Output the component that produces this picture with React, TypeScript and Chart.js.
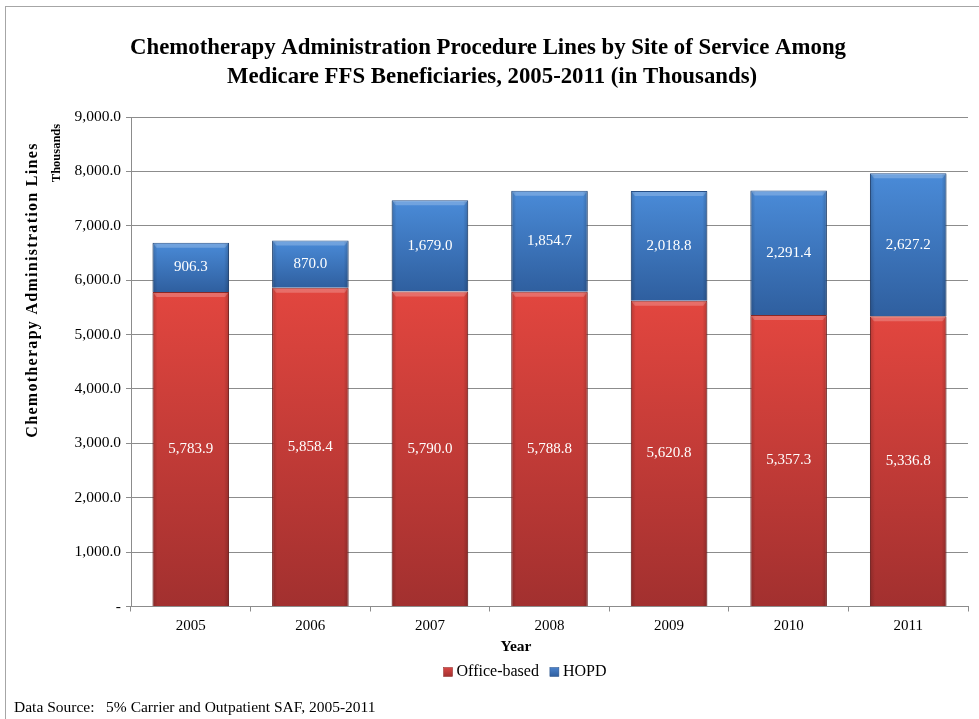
import { useEffect, useRef } from 'react';
import { Chart, registerables } from 'chart.js';

Chart.register(...registerables);

const FONT = '"Liberation Serif", "Times New Roman", serif';

const years = ['2005', '2006', '2007', '2008', '2009', '2010', '2011'];
const officeBased = [5783.9, 5858.4, 5790.0, 5788.8, 5620.8, 5357.3, 5336.8];
const hopd = [906.3, 870.0, 1679.0, 1854.7, 2018.8, 2291.4, 2627.2];
const seriesNames = ['Office-based', 'HOPD'];
const titleLines = [
  'Chemotherapy Administration Procedure Lines by Site of Service Among',
  'Medicare FFS Beneficiaries, 2005-2011 (in Thousands)',
];
const yAxisTitle = 'Chemotherapy Administration Lines';
const yAxisUnit = 'Thousands';
const xAxisTitle = 'Year';
const sourceNote = 'Data Source:   5% Carrier and Outpatient SAF, 2005-2011';
const yMin = 0;
const yMax = 9000;
const yStep = 1000;

const RED_TOP = '#e2463f';
const RED_BOTTOM = '#a2302f';
const BLUE_TOP = '#4a8bd8';
const BLUE_BOTTOM = '#2f5f9f';
const LEGEND_FILL = ['#d94744', '#4a82cc'];
const EDGE = ['#8a2826', '#274f86'];

const fmt = (v: number) =>
  v.toLocaleString('en-US', { minimumFractionDigits: 1, maximumFractionDigits: 1 });

function segGradient(ctx: any, top: string, bottom: string) {
  const chart = ctx.chart;
  const y = chart.scales && chart.scales.y;
  if (!chart.chartArea || !y || ctx.type !== 'data') return top;
  const i = ctx.dataIndex;
  const lower = ctx.datasetIndex === 0 ? 0 : officeBased[i];
  const upper = ctx.datasetIndex === 0 ? officeBased[i] : officeBased[i] + hopd[i];
  const y0 = y.getPixelForValue(upper);
  const y1 = y.getPixelForValue(lower);
  if (!isFinite(y0) || !isFinite(y1) || y0 === y1) return top;
  const g = chart.ctx.createLinearGradient(0, y0, 0, y1);
  g.addColorStop(0, top);
  g.addColorStop(1, bottom);
  return g;
}

const bevelPlugin = {
  id: 'bevel',
  afterDatasetsDraw(chart: any) {
    const ctx = chart.ctx;
    chart.data.datasets.forEach((_: any, di: number) => {
      const meta = chart.getDatasetMeta(di);
      meta.data.forEach((el: any) => {
        const p = el.getProps(['x', 'y', 'base', 'width'], true);
        const left = p.x - p.width / 2;
        const top = Math.min(p.y, p.base);
        const h = Math.abs(p.base - p.y);
        ctx.save();
        ctx.fillStyle = 'rgba(255,255,255,0.22)';
        ctx.beginPath();
        ctx.moveTo(left + 1, top + 1);
        ctx.lineTo(left + p.width - 1, top + 1);
        ctx.lineTo(left + p.width - 4, top + 5);
        ctx.lineTo(left + 4, top + 5);
        ctx.closePath();
        ctx.fill();
        const gl = ctx.createLinearGradient(left, 0, left + 5, 0);
        gl.addColorStop(0, 'rgba(0,0,0,0.18)');
        gl.addColorStop(1, 'rgba(0,0,0,0)');
        ctx.fillStyle = gl;
        ctx.fillRect(left, top + 1, 5, h - 1);
        const gr = ctx.createLinearGradient(left + p.width, 0, left + p.width - 5, 0);
        gr.addColorStop(0, 'rgba(0,0,0,0.2)');
        gr.addColorStop(1, 'rgba(0,0,0,0)');
        ctx.fillStyle = gr;
        ctx.fillRect(left + p.width - 5, top + 1, 5, h - 1);
        ctx.restore();
      });
    });
  },
};

const valueLabelPlugin = {
  id: 'valueLabels',
  afterDatasetsDraw(chart: any) {
    const ctx = chart.ctx;
    ctx.save();
    ctx.font = `15px ${FONT}`;
    ctx.fillStyle = '#ffffff';
    ctx.textAlign = 'center';
    ctx.textBaseline = 'middle';
    chart.data.datasets.forEach((ds: any, di: number) => {
      const meta = chart.getDatasetMeta(di);
      meta.data.forEach((el: any, i: number) => {
        const p = el.getProps(['x', 'y', 'base'], true);
        ctx.fillText(fmt(ds.data[i]), p.x, (p.y + p.base) / 2);
      });
    });
    ctx.restore();
  },
};

function drawText(
  ctx: CanvasRenderingContext2D,
  text: string,
  x: number,
  y: number,
  font: string,
  rotate = false,
  spacing = 0
) {
  ctx.save();
  ctx.fillStyle = '#000';
  ctx.textAlign = 'center';
  ctx.textBaseline = 'middle';
  ctx.font = font;
  (ctx as any).letterSpacing = `${spacing}px`;
  ctx.translate(x, y);
  if (rotate) ctx.rotate(-Math.PI / 2);
  ctx.fillText(text, 0, 0);
  ctx.restore();
}

const textPlugin = {
  id: 'chartText',
  afterDraw(chart: any) {
    const ctx = chart.ctx;
    drawText(ctx, titleLines[0], 488, 48, `bold 22.8px ${FONT}`);
    drawText(ctx, titleLines[1], 492, 77, `bold 22.8px ${FONT}`);
    drawText(ctx, yAxisTitle, 33, 290, `bold 16px ${FONT}`, true, 1.3);
    drawText(ctx, yAxisUnit, 57, 153, `bold 12.5px ${FONT}`, true);
    drawText(ctx, xAxisTitle, 516, 647, `bold 15.5px ${FONT}`);

    // legend
    ctx.save();
    ctx.font = `16px ${FONT}`;
    ctx.textBaseline = 'middle';
    ctx.textAlign = 'left';
    const box = 9;
    const gap = 4;
    const itemGap = 11;
    const widths = seriesNames.map((n) => ctx.measureText(n).width);
    const total =
      widths.reduce((a, w) => a + box + gap + w, 0) + itemGap * (seriesNames.length - 1);
    let x = 525 - total / 2;
    const cy = 672;
    seriesNames.forEach((n, i) => {
      const g = ctx.createLinearGradient(0, cy - box / 2, 0, cy + box / 2);
      g.addColorStop(0, LEGEND_FILL[i]);
      g.addColorStop(1, i === 0 ? RED_BOTTOM : BLUE_BOTTOM);
      ctx.fillStyle = g;
      ctx.fillRect(x, cy - box / 2, box, box);
      ctx.strokeStyle = EDGE[i];
      ctx.lineWidth = 0.5;
      ctx.strokeRect(x, cy - box / 2, box, box);
      ctx.fillStyle = '#000';
      ctx.fillText(n, x + box + gap, cy);
      x += box + gap + widths[i] + itemGap;
    });
    ctx.restore();
  },
};

export default function App() {
  const ref = useRef<HTMLCanvasElement>(null);

  useEffect(() => {
    if (!ref.current) return;
    Chart.defaults.font.family = FONT;
    const chart = new Chart(ref.current, {
      type: 'bar',
      data: {
        labels: years,
        datasets: [
          {
            label: seriesNames[0],
            data: officeBased,
            backgroundColor: (c: any) => segGradient(c, RED_TOP, RED_BOTTOM),
            borderColor: EDGE[0],
            borderWidth: 1,
            categoryPercentage: 1,
            barPercentage: 0.64,
          },
          {
            label: seriesNames[1],
            data: hopd,
            backgroundColor: (c: any) => segGradient(c, BLUE_TOP, BLUE_BOTTOM),
            borderColor: EDGE[1],
            borderWidth: 1,
            categoryPercentage: 1,
            barPercentage: 0.64,
          },
        ],
      },
      options: {
        responsive: false,
        animation: false,
        devicePixelRatio: 1,
        layout: { padding: { left: 0, right: 11, top: 117, bottom: 62.5 } },
        plugins: {
          title: { display: false },
          legend: { display: false },
          tooltip: { enabled: false },
        },
        scales: {
          x: {
            stacked: true,
            grid: {
              display: true,
              drawOnChartArea: false,
              drawTicks: true,
              tickLength: 5,
              color: '#8c8c8c',
              offset: true,
            },
            border: { color: '#8c8c8c' },
            ticks: { color: '#000', font: { size: 15, family: FONT }, padding: 6 },
            title: { display: false },
            afterFit: (s: any) => {
              s.height = 50;
            },
          },
          y: {
            stacked: true,
            min: yMin,
            max: yMax,
            ticks: {
              stepSize: yStep,
              color: '#000',
              font: { size: 15.5, family: FONT },
              padding: 5,
              callback: (v: any) => (Number(v) === 0 ? '-' : fmt(Number(v))),
            },
            grid: { color: '#8c8c8c', tickLength: 5, drawTicks: true },
            border: { color: '#8c8c8c' },
            afterFit: (s: any) => {
              s.width = 131;
            },
          },
        },
      },
      plugins: [bevelPlugin, valueLabelPlugin, textPlugin],
    } as any);
    return () => chart.destroy();
  }, []);

  return (
    <div
      style={{
        position: 'fixed',
        left: 0,
        top: 0,
        width: 979,
        height: 719,
        overflow: 'hidden',
        background: '#fff',
      }}
    >
      <div
        style={{
          position: 'absolute',
          left: 5,
          top: 6,
          width: 1200,
          height: 1200,
          border: '1px solid #a6a6a6',
        }}
      />
      <canvas
        ref={ref}
        width={979}
        height={719}
        style={{ position: 'absolute', left: 0, top: 0, width: 979, height: 719 }}
      />
      <div
        style={{
          position: 'absolute',
          left: 14,
          top: 699,
          fontFamily: FONT,
          fontSize: 15.5,
          color: '#000',
          whiteSpace: 'pre',
          lineHeight: '16px',
        }}
      >
        {sourceNote}
      </div>
    </div>
  );
}
